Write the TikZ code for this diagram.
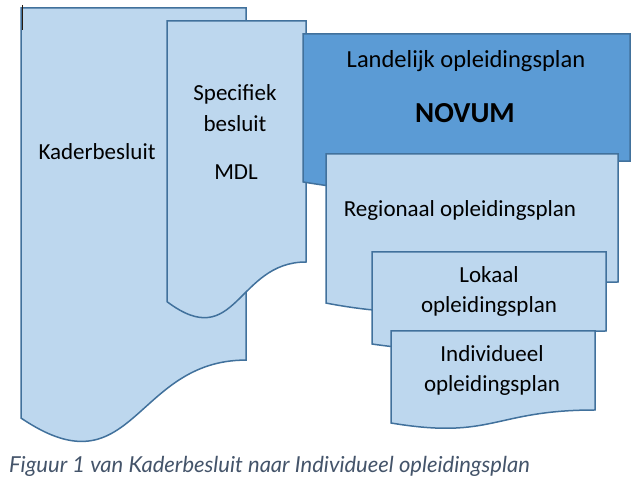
\documentclass[tikz,border=0pt]{standalone}
\usepackage{fontspec}
\setmainfont{Carlito}
\newfontfamily\capfont{Lato}
\definecolor{lightdoc}{HTML}{BDD7EE}
\definecolor{darkdoc}{HTML}{5B9BD5}
\definecolor{docline}{HTML}{41719C}
\definecolor{capcol}{HTML}{44546A}
\newcommand\docshape[5]{%
  \draw[docstyle,fill=#1] (#2,#3) -- ++(#4,0) -- ++(0,{0.802*#5})
    .. controls ({#2+#4/2},{#3+0.802*#5}) and ({#2+#4/2},{#3+1.1075*#5}) ..
    ({#2},{#3+0.934*#5}) -- cycle;}
\begin{document}
\begin{tikzpicture}[x=1pt,y=-1pt,
  docstyle/.style={draw=docline,line width=1.5pt,line join=miter},
  lbl/.style={font=\fontsize{23}{27}\selectfont,anchor=base,inner sep=0pt,text=black}]
\useasboundingbox (0,0) rectangle (641,481);
\fill[white] (0,0) rectangle (641,481);
\docshape{lightdoc}{21}{8}{225}{439}
\docshape{lightdoc}{167}{21}{139}{300.5}
\docshape{darkdoc}{303}{34}{327}{158.4}
\docshape{lightdoc}{326}{154}{292}{159.6}
\docshape{lightdoc}{372}{252}{234}{98.5}
\docshape{lightdoc}{391}{331}{204}{98.5}
\draw[line width=1pt,black!80!brown] (22,5) -- (22,30);
\node[lbl] (kader) at (97,160) {Kaderbesluit};
\node[lbl] (spec1) at (235,101) {Specifiek};
\node[lbl] (spec2) at (235,132) {besluit};
\node[lbl] (spec3) at (236,180) {MDL};
\node[lbl,font=\fontsize{24.5}{29}\selectfont] (land) at (466,68) {Landelijk opleidingsplan};
\node[lbl,font=\fontsize{29}{33}\selectfont\bfseries] (novum) at (465,123) {NOVUM};
\node[lbl] (reg) at (460,217) {Regionaal opleidingsplan};
\node[lbl] (lok1) at (489,283) {Lokaal};
\node[lbl] (lok2) at (489,313) {opleidingsplan};
\node[lbl] (ind1) at (492,362) {Individueel};
\node[lbl] (ind2) at (492,392) {opleidingsplan};
\node[anchor=base west,inner sep=0pt,text=capcol,font=\capfont\itshape\fontsize{22}{26}\selectfont] (cap) at (9,473) {Figuur 1 van Kaderbesluit naar Individueel opleidingsplan};
\end{tikzpicture}
\end{document}
